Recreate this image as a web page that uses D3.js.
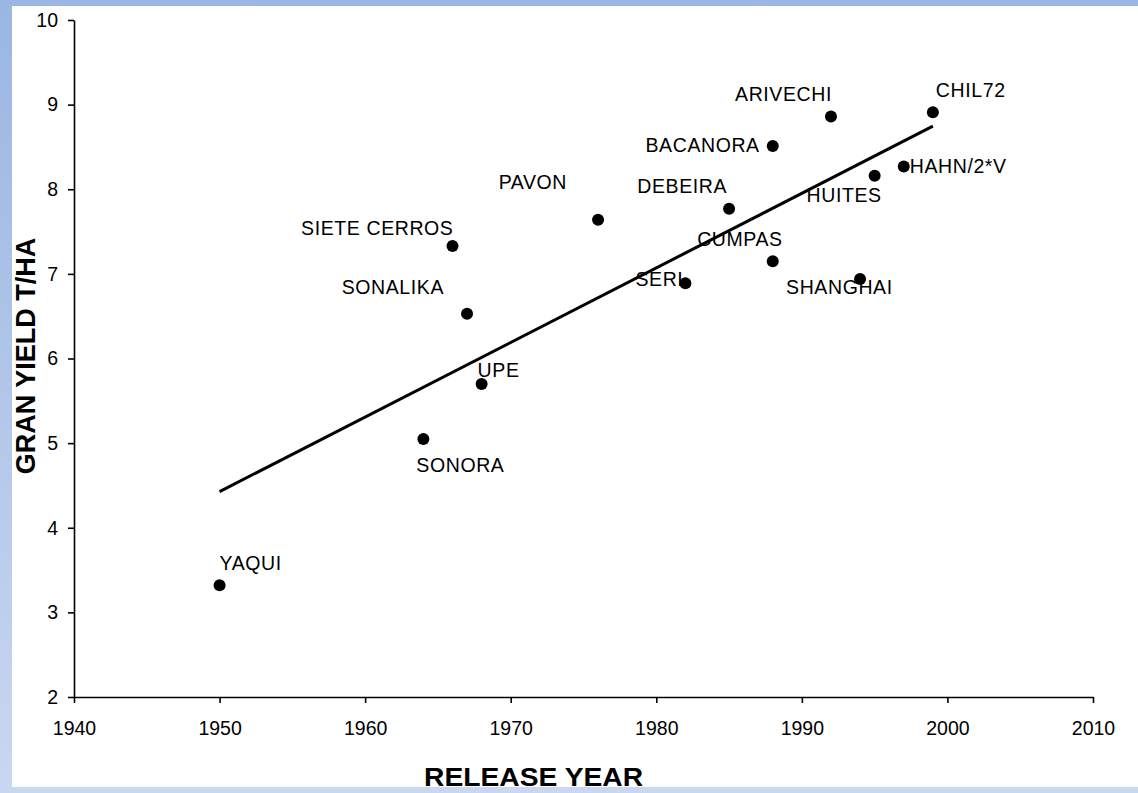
<!DOCTYPE html>
<html>
<head>
<meta charset="utf-8">
<script src="https://cdn.jsdelivr.net/npm/d3@7/dist/d3.min.js"></script>
<style>
  html, body { margin: 0; padding: 0; background: #fff; }
  svg { display: block; }
  text { font-family: "Liberation Sans", Arial, Helvetica, sans-serif; fill: #000; }
</style>
</head>
<body>
<svg id="chart" width="1138" height="793"></svg>
<script>
// Wheat varieties: release year vs. grain yield (t/ha)
const varieties = ["YAQUI", "SONORA", "UPE", "SONALIKA", "SIETE CERROS", "PAVON", "DEBEIRA",
  "BACANORA", "ARIVECHI", "CHIL72", "HAHN/2*V", "HUITES", "CUMPAS", "SERI", "SHANGHAI"];
const releaseYears = [1950, 1964, 1968, 1967, 1966, 1976, 1985, 1988, 1992, 1999, 1997, 1995, 1988, 1982, 1994];
const grainYields = [3.32, 5.05, 5.70, 6.53, 7.33, 7.64, 7.77, 8.51, 8.86, 8.91, 8.27, 8.16, 7.15, 6.89, 6.94];

const xTickValues = [1940, 1950, 1960, 1970, 1980, 1990, 2000, 2010];
const yTickValues = [2, 3, 4, 5, 6, 7, 8, 9, 10];

// Label placement next to each point (anchor side, offset in px)
const labelPlacement = [
  { anchor: "start", dx: 0, dy: -15 },     // YAQUI
  { anchor: "start", dx: -7, dy: 33 },     // SONORA
  { anchor: "start", dx: -4, dy: -7 },     // UPE
  { anchor: "end", dx: -23, dy: -20 },     // SONALIKA
  { anchor: "end", dx: 1, dy: -11 },       // SIETE CERROS
  { anchor: "end", dx: -31, dy: -31 },     // PAVON
  { anchor: "end", dx: -2, dy: -16 },      // DEBEIRA
  { anchor: "end", dx: -13, dy: 6 },       // BACANORA
  { anchor: "end", dx: 1, dy: -15 },       // ARIVECHI
  { anchor: "start", dx: 3, dy: -15 },     // CHIL72
  { anchor: "start", dx: 6, dy: 7 },       // HAHN/2*V
  { anchor: "end", dx: 7, dy: 26 },        // HUITES
  { anchor: "end", dx: 10, dy: -15 },      // CUMPAS
  { anchor: "end", dx: -2, dy: 3 },        // SERI
  { anchor: "start", dx: -74, dy: 15 }     // SHANGHAI
];

const W = 1138, H = 793;
const svg = d3.select("#chart");

// Blue frame behind a white page
const defs = svg.append("defs");
const grad = defs.append("linearGradient").attr("id", "frameGrad")
  .attr("x1", 0).attr("y1", 0).attr("x2", 0).attr("y2", 1);
grad.append("stop").attr("offset", "0%").attr("stop-color", "#9ab6e3");
grad.append("stop").attr("offset", "100%").attr("stop-color", "#c9d7f0");
svg.append("rect").attr("width", W).attr("height", H).attr("fill", "url(#frameGrad)");
svg.append("rect").attr("x", 12).attr("y", 6).attr("width", W - 12).attr("height", 781).attr("fill", "#fff");

const x = d3.scaleLinear().domain([1940, 2010]).range([74, 1093]);
const y = d3.scaleLinear().domain([2, 10]).range([697, 20]);

const fontSize = "19.5px";

// Axes
const xAxis = svg.append("g")
  .attr("transform", `translate(0,${y(2)})`)
  .call(d3.axisBottom(x).tickValues(xTickValues).tickFormat(d3.format("d"))
    .tickSize(6).tickPadding(18).tickSizeOuter(0));
const yAxis = svg.append("g")
  .attr("transform", `translate(${x(1940)},0)`)
  .call(d3.axisLeft(y).tickValues(yTickValues).tickFormat(d3.format("d"))
    .tickSize(6).tickPadding(10).tickSizeOuter(0));

[xAxis, yAxis].forEach(g => {
  g.attr("font-family", null).attr("font-size", null);
  g.selectAll("path.domain").attr("stroke", "#000").attr("stroke-width", 1.6);
  g.selectAll(".tick line").attr("stroke", "#000").attr("stroke-width", 1.6);
  g.selectAll(".tick text").style("font-size", fontSize).attr("fill", "#000");
});

// Least-squares trend line over the released years
const mx = d3.mean(releaseYears), my = d3.mean(grainYields);
const sxy = d3.sum(releaseYears, (v, i) => (v - mx) * (grainYields[i] - my));
const sxx = d3.sum(releaseYears, v => (v - mx) * (v - mx));
const slope = sxy / sxx, intercept = my - slope * mx;
const [x0, x1] = d3.extent(releaseYears);
svg.append("path")
  .datum([x0, x1])
  .attr("d", d3.line().x(d => x(d)).y(d => y(intercept + slope * d)))
  .attr("stroke", "#000").attr("stroke-width", 3).attr("fill", "none");

// Points
const pts = varieties.map((name, i) => ({ name, year: releaseYears[i], yield: grainYields[i], lp: labelPlacement[i] }));
svg.append("g").selectAll("circle").data(pts).join("circle")
  .attr("cx", d => x(d.year)).attr("cy", d => y(d.yield)).attr("r", 6).attr("fill", "#000");

// Variety labels
svg.append("g").selectAll("text").data(pts).join("text")
  .attr("x", d => x(d.year) + d.lp.dx)
  .attr("y", d => y(d.yield) + d.lp.dy)
  .attr("text-anchor", d => d.lp.anchor)
  .style("font-size", fontSize)
  .style("letter-spacing", "0.6px")
  .text(d => d.name);

// Axis titles
svg.append("text")
  .attr("transform", "translate(424,786) scale(1.13,1)")
  .attr("text-anchor", "start")
  .style("font-size", "25px").style("font-weight", "bold")
  .text("RELEASE YEAR");
svg.append("text")
  .attr("transform", "translate(35,356) rotate(-90)")
  .attr("text-anchor", "middle")
  .style("font-size", "27px").style("font-weight", "bold")
  .text("GRAN YIELD T/HA");
</script>
</body>
</html>
